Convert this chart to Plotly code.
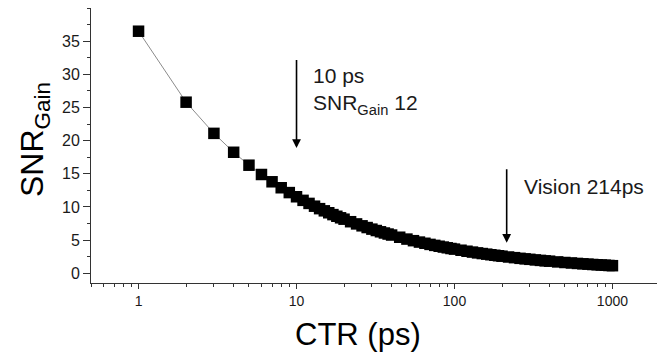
import plotly.graph_objects as go
import math

# CTR values (ps) and SNR gain
ctr = [1, 2, 3, 4, 5, 6, 7, 8, 9, 10, 11, 12, 13, 14, 15, 16, 17, 18, 19, 20,
       22, 24, 26, 28, 30, 32, 34, 36, 38, 40, 45, 50, 55, 60, 65, 70, 75, 80, 85, 90, 95, 100,
       110, 120, 130, 140, 150, 160, 170, 180, 190, 200, 220, 240, 260, 280, 300, 325, 350, 375, 400,
       450, 500, 550, 600, 650, 700, 750, 800, 850, 900, 950, 1000]
snr_gain = [36.5, 25.8, 21.1, 18.25, 16.3, 14.9, 13.8, 12.9, 12.17, 11.54, 11.0, 10.54, 10.12, 9.75,
            9.42, 9.13, 8.85, 8.6, 8.37, 8.16, 7.78, 7.45, 7.16, 6.9, 6.66, 6.45, 6.26, 6.08, 5.92, 5.77,
            5.44, 5.16, 4.92, 4.71, 4.53, 4.36, 4.21, 4.08, 3.96, 3.85, 3.74, 3.65, 3.48, 3.33, 3.2, 3.08,
            2.98, 2.89, 2.8, 2.72, 2.65, 2.58, 2.46, 2.36, 2.26, 2.18, 2.11, 2.02, 1.95, 1.88, 1.83, 1.72,
            1.63, 1.56, 1.49, 1.43, 1.38, 1.33, 1.29, 1.25, 1.22, 1.18, 1.15]

x_tickvals = [1, 10, 100, 1000]
x_ticktext = ["1", "10", "100", "1000"]
x_minor = [0.5, 0.6, 0.7, 0.8, 0.9, 2, 3, 4, 5, 6, 7, 8, 9, 20, 30, 40, 50, 60, 70, 80, 90,
           200, 300, 400, 500, 600, 700, 800, 900, 2000]
y_tickvals = [0, 5, 10, 15, 20, 25, 30, 35]

mark1_ctr, mark1_text = 10, "10 ps<br>SNR<sub>Gain</sub> 12"
mark2_ctr, mark2_text = 214, "Vision 214ps"

FONT = "Arial, Liberation Sans, sans-serif"
TXT = "#1a1a1a"

fig = go.Figure()
fig.add_trace(go.Scatter(
    x=ctr, y=snr_gain, mode="lines+markers",
    line=dict(color="#8c8c8c", width=1),
    marker=dict(symbol="square", size=11.5, color="black", line=dict(width=0)),
    showlegend=False, hoverinfo="skip"))

# the page body adds an 8px offset, so the figure is sized 8px smaller
fig.update_layout(
    width=657, height=348,
    margin=dict(l=83, r=5, t=0, b=73, autoexpand=False),
    paper_bgcolor="white", plot_bgcolor="white",
    font=dict(family=FONT, color=TXT),
    xaxis=dict(type="log", range=[math.log10(0.5), math.log10(2000)], automargin=False,
               tickmode="array", tickvals=x_tickvals, ticktext=x_ticktext,
               ticks="outside", ticklen=5, tickwidth=1, tickcolor="#333",
               showline=True, linecolor="#333", linewidth=1, showgrid=False, zeroline=False,
               tickfont=dict(size=14, family=FONT, color=TXT),
               minor=dict(tickmode="array", tickvals=x_minor, ticks="outside", ticklen=3,
                          tickcolor="#333", showgrid=False)),
    yaxis=dict(range=[-1.46, 40], automargin=False,
               tickmode="array", tickvals=y_tickvals,
               ticks="outside", ticklen=7, tickwidth=1, tickcolor="#333",
               showline=True, linecolor="#333", linewidth=1, showgrid=False, zeroline=False,
               tickfont=dict(size=16, family=FONT, color=TXT),
               minor=dict(tick0=0, dtick=2.5, ticks="outside", ticklen=3, tickcolor="#333",
                          showgrid=False)),
)

# axis titles
fig.add_annotation(text="SNR<sub>Gain</sub>", xref="paper", yref="paper",
                   x=(34 - 91) / 569, y=(283 - 140) / 275, textangle=-90,
                   showarrow=False, xanchor="center", yanchor="middle",
                   font=dict(size=32, family=FONT, color="black"))
fig.add_annotation(text="CTR (ps)", xref="paper", yref="paper",
                   x=(358 - 91) / 569, y=-(334 - 283) / 275,
                   showarrow=False, xanchor="center", yanchor="middle",
                   font=dict(size=31, family=FONT, color="black"))

# arrows
fig.add_annotation(x=math.log10(mark1_ctr), y=18.9, ax=math.log10(mark1_ctr), ay=32.4,
                   xref="x", yref="y", axref="x", ayref="y", text="",
                   showarrow=True, arrowhead=2, arrowsize=1.1, arrowwidth=1.6, arrowcolor="black")
fig.add_annotation(x=math.log10(mark2_ctr), y=4.6, ax=math.log10(mark2_ctr), ay=15.9,
                   xref="x", yref="y", axref="x", ayref="y", text="",
                   showarrow=True, arrowhead=2, arrowsize=1.1, arrowwidth=1.6, arrowcolor="black")

fig.add_annotation(text=mark1_text, x=1.093, y=27.5, xref="x", yref="y",
                   showarrow=False, xanchor="left", yanchor="middle", align="left",
                   font=dict(size=21, family=FONT, color=TXT))
fig.add_annotation(text=mark2_text, x=2.427, y=13.06, xref="x", yref="y",
                   showarrow=False, xanchor="left", yanchor="middle", align="left",
                   font=dict(size=21, family=FONT, color=TXT))

fig.write_html("out.html")
